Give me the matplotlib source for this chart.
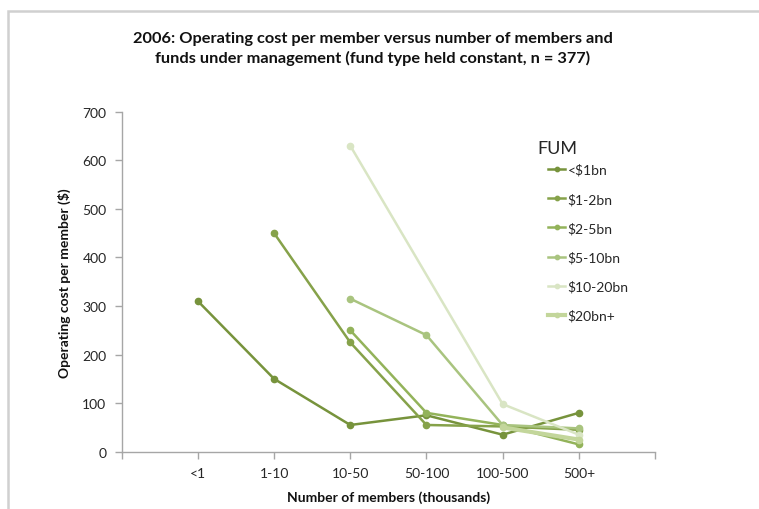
import numpy as np
import matplotlib
matplotlib.use("Agg")
import matplotlib.pyplot as plt
from matplotlib.patches import Rectangle

plt.rcParams['font.family'] = ['Lato', 'DejaVu Sans']

categories = ['<1', '1-10', '10-50', '50-100', '100-500', '500+']
fum_labels = ['<$1bn', '$1-2bn', '$2-5bn', '$5-10bn', '$10-20bn', '$20bn+']
nan = np.nan
cost_lt1 = [310, 150, 55, 75, 35, 80]
cost_1_2 = [nan, 450, 225, 55, 52, 45]
cost_2_5 = [nan, nan, 250, 80, 55, 15]
cost_5_10 = [nan, nan, 315, 240, 55, 48]
cost_10_20 = [nan, nan, 630, nan, 98, 35]
cost_20plus = [nan, nan, nan, nan, 50, 25]
y_ticks = [0, 100, 200, 300, 400, 500, 600, 700]

series = [cost_lt1, cost_1_2, cost_2_5, cost_5_10, cost_10_20, cost_20plus]
colors = ['#77933C', '#86A24A', '#93B35A', '#A9C47F', '#D9E5C4', '#C3D69B']
widths = [1.8, 1.8, 1.8, 1.8, 1.8, 3.0]

W, H = 759, 510
fig = plt.figure(figsize=(W / 100, H / 100), dpi=100)
ax = fig.add_axes([121.7 / W, 1 - 452.7 / H, (655 - 121.7) / W, (452.7 - 112.7) / H])

x = np.arange(1, len(categories) + 1)
for vals, lab, c in zip(series, fum_labels, colors):
    v = np.array(vals, dtype=float)
    ok = ~np.isnan(v)
    ax.plot(x[ok], v[ok], color=c, lw=1.8, marker='o', ms=4.5, label=lab, zorder=3)

ax.set_xlim(0, 7)
ax.set_ylim(0, 700)
ax.set_xticks(x)
ax.set_xticklabels(categories)
ax.set_xticks([0, 7], minor=True)
ax.set_yticks(y_ticks)

for side in ['top', 'right']:
    ax.spines[side].set_visible(False)
for side in ['left', 'bottom']:
    ax.spines[side].set_color('#A6A6A6')
    ax.spines[side].set_linewidth(1.0)
ax.tick_params(which='both', color='#A6A6A6', length=5, width=1.0,
               labelsize=10, labelcolor='#262626', pad=6)

ax.set_xlabel('Number of members (thousands)', fontsize=10, fontweight='bold',
              color='#111111', labelpad=8)
ax.set_ylabel('Operating cost per member ($)', fontsize=10, fontweight='bold',
              color='#111111', labelpad=8)

fig.text(373 / W, 1 - 49 / H,
         '2006: Operating cost per member versus number of members and\n'
         'funds under management (fund type held constant, n = 377)',
         ha='center', va='center', fontsize=11.8, fontweight='bold',
         color='#111111', linespacing=1.35)

# legend: title drawn separately so it can sit left of the handles
fig.text(537 / W, 1 - 149 / H, 'FUM', ha='left', va='center',
         fontsize=13, color='#262626')
handles, labels = ax.get_legend_handles_labels()
for h, lw in zip(handles, widths):
    h.set_linewidth(lw)
leg = ax.legend(handles, labels, loc='upper left',
                bbox_to_anchor=(548 / W, 1 - 164.5 / H), bbox_transform=fig.transFigure,
                frameon=False, fontsize=10, handlelength=1.25, handletextpad=0.15,
                labelspacing=1.2, borderpad=0, borderaxespad=0, markerscale=0.7)
for t in leg.get_texts():
    t.set_color('#262626')

fig.patches.append(Rectangle((8 / W, -0.1), 1.2, 1 - 12 / H + 0.1,
                             transform=fig.transFigure, fill=False,
                             edgecolor='#D0D0D0', lw=1.8))

fig.savefig('out.png', dpi=100)
